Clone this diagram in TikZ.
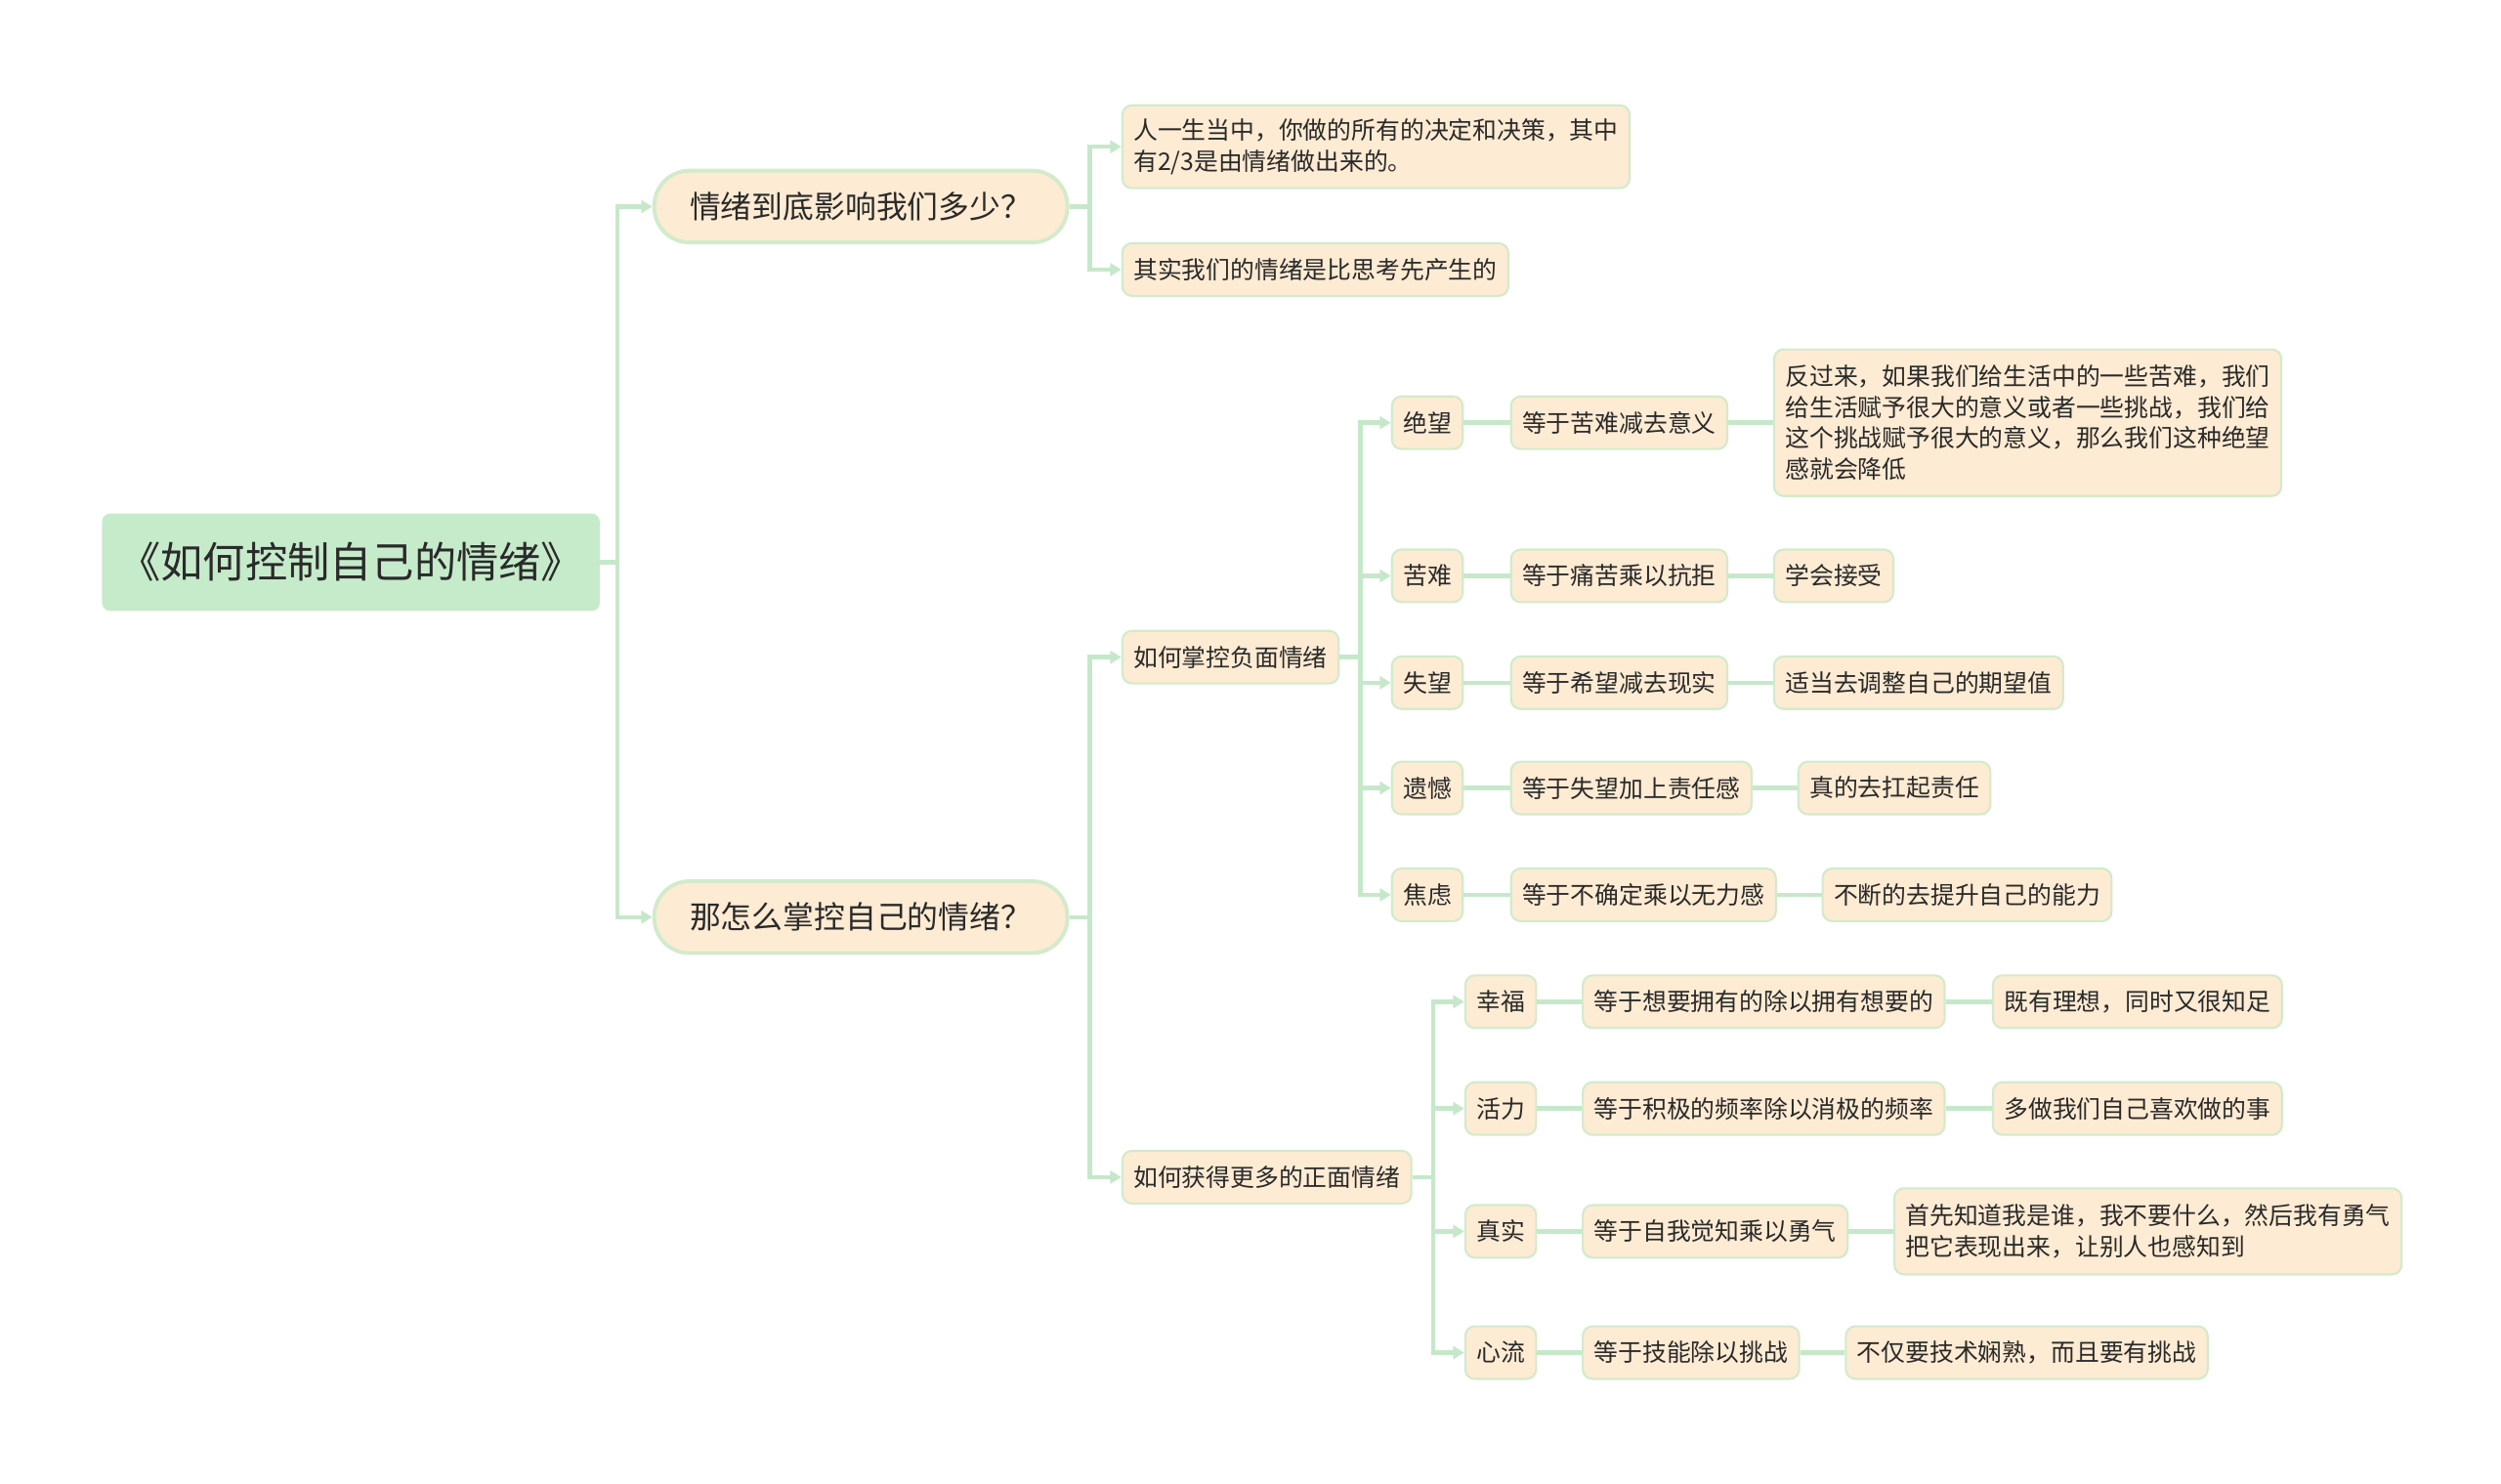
\documentclass[tikz,border=0pt]{standalone}
\usepackage{fontspec}
\setmainfont{Noto Sans CJK SC}
\usetikzlibrary{arrows.meta,positioning}
\definecolor{rootGreen}{HTML}{C6EBCB}
\definecolor{linkGreen}{HTML}{C6E8CA}
\definecolor{boxCream}{HTML}{FDEBD3}
\definecolor{boxEdge}{HTML}{D2EBCB}
\definecolor{inkGray}{HTML}{2A2A2A}
\tikzset{
  link/.style={draw=linkGreen, line width=2.8pt},
  arrowlink/.style={link, -{Triangle[length=7pt,width=8pt]}},
  rootbox/.style={rectangle, rounded corners=5pt, draw=none, fill=rootGreen, text=inkGray, minimum width=312pt, minimum height=61pt, font=\fontsize{26.5pt}{30pt}\selectfont},
  topic/.style={rectangle, rounded corners=22pt, draw=boxEdge, line width=2.4pt, fill=boxCream, text=inkGray, minimum width=259pt, minimum height=45pt, font=\fontsize{19.5pt}{24pt}\selectfont},
  leaf/.style={rectangle, rounded corners=6pt, draw=boxEdge, line width=1.3pt, fill=boxCream, text=inkGray, minimum height=33pt, inner xsep=7pt, inner ysep=6pt, align=left, font=\fontsize{15.2pt}{19.4pt}\selectfont}
}

\begin{document}
\begin{tikzpicture}[x=1pt,y=-1pt]
\useasboundingbox (0,0) rectangle (1568,930);

% --------------------------------------------------------------------------
% Root and first level
% --------------------------------------------------------------------------
\node[rootbox] (root) at (220,352.5) {《如何控制自己的情绪》};
\node[topic, anchor=west] (qHow) at (409,129.5) {情绪到底影响我们多少？};
\node[topic, anchor=west] (qCtrl) at (409,575) {那怎么掌控自己的情绪？};

\draw[arrowlink] (root.east) -- ++(11,0) |- (qHow.west);
\draw[arrowlink] (root.east) -- ++(11,0) |- (qCtrl.west);

% --------------------------------------------------------------------------
% How much do emotions matter
% --------------------------------------------------------------------------
\node[leaf, anchor=west, minimum height=52pt] (aShare) at (703,92) {人一生当中，你做的所有的决定和决策，其中\\有2/3是由情绪做出来的。};
\node[leaf, anchor=west] (aFirst) at (703,169) {其实我们的情绪是比思考先产生的};

\draw[arrowlink] (qHow.east) -- ++(13,0) |- (aShare.west);
\draw[arrowlink] (qHow.east) -- ++(13,0) |- (aFirst.west);

% --------------------------------------------------------------------------
% Negative emotions
% --------------------------------------------------------------------------
\node[leaf, anchor=west] (neg) at (703,412) {如何掌控负面情绪};
\draw[arrowlink] (qCtrl.east) -- ++(13,0) |- (neg.west);

\node[leaf, anchor=west] (despair) at (872,265) {绝望};
\node[leaf, right=29pt of despair] (despairEq) {等于苦难减去意义};
\node[leaf, right=28pt of despairEq, minimum height=92pt] (despairDo) {反过来，如果我们给生活中的一些苦难，我们\\给生活赋予很大的意义或者一些挑战，我们给\\这个挑战赋予很大的意义，那么我们这种绝望\\感就会降低};

\node[leaf, anchor=west] (suffer) at (872,361) {苦难};
\node[leaf, right=29pt of suffer] (sufferEq) {等于痛苦乘以抗拒};
\node[leaf, right=28pt of sufferEq] (sufferDo) {学会接受};

\node[leaf, anchor=west] (letdown) at (872,428) {失望};
\node[leaf, right=29pt of letdown] (letdownEq) {等于希望减去现实};
\node[leaf, right=28pt of letdownEq] (letdownDo) {适当去调整自己的期望值};

\node[leaf, anchor=west] (regret) at (872,494) {遗憾};
\node[leaf, right=29pt of regret] (regretEq) {等于失望加上责任感};
\node[leaf, right=28pt of regretEq] (regretDo) {真的去扛起责任};

\node[leaf, anchor=west] (anxiety) at (872,561) {焦虑};
\node[leaf, right=29pt of anxiety] (anxietyEq) {等于不确定乘以无力感};
\node[leaf, right=28pt of anxietyEq] (anxietyDo) {不断的去提升自己的能力};

\draw[arrowlink] (neg.east) -- ++(13,0) |- (despair.west);
\draw[arrowlink] (neg.east) -- ++(13,0) |- (suffer.west);
\draw[arrowlink] (neg.east) -- ++(13,0) |- (letdown.west);
\draw[arrowlink] (neg.east) -- ++(13,0) |- (regret.west);
\draw[arrowlink] (neg.east) -- ++(13,0) |- (anxiety.west);

\draw[link] (despair.east) -- (despairEq.west);
\draw[link] (despairEq.east) -- (despairDo.west);
\draw[link] (suffer.east) -- (sufferEq.west);
\draw[link] (sufferEq.east) -- (sufferDo.west);
\draw[link] (letdown.east) -- (letdownEq.west);
\draw[link] (letdownEq.east) -- (letdownDo.west);
\draw[link] (regret.east) -- (regretEq.west);
\draw[link] (regretEq.east) -- (regretDo.west);
\draw[link] (anxiety.east) -- (anxietyEq.west);
\draw[link] (anxietyEq.east) -- (anxietyDo.west);

% --------------------------------------------------------------------------
% Positive emotions
% --------------------------------------------------------------------------
\node[leaf, anchor=west] (pos) at (703,738) {如何获得更多的正面情绪};
\draw[arrowlink] (qCtrl.east) -- ++(13,0) |- (pos.west);

\node[leaf, anchor=west] (happy) at (918,628) {幸福};
\node[leaf, right=28pt of happy] (happyEq) {等于想要拥有的除以拥有想要的};
\node[leaf, right=29pt of happyEq] (happyDo) {既有理想，同时又很知足};

\node[leaf, anchor=west] (vigour) at (918,695) {活力};
\node[leaf, right=28pt of vigour] (vigourEq) {等于积极的频率除以消极的频率};
\node[leaf, right=29pt of vigourEq] (vigourDo) {多做我们自己喜欢做的事};

\node[leaf, anchor=west] (genuine) at (918,772) {真实};
\node[leaf, right=28pt of genuine] (genuineEq) {等于自我觉知乘以勇气};
\node[leaf, right=28pt of genuineEq, minimum height=54pt] (genuineDo) {首先知道我是谁，我不要什么，然后我有勇气\\把它表现出来，让别人也感知到};

\node[leaf, anchor=west] (flow) at (918,848) {心流};
\node[leaf, right=28pt of flow] (flowEq) {等于技能除以挑战};
\node[leaf, right=28pt of flowEq] (flowDo) {不仅要技术娴熟，而且要有挑战};

\draw[arrowlink] (pos.east) -- ++(13,0) |- (happy.west);
\draw[arrowlink] (pos.east) -- ++(13,0) |- (vigour.west);
\draw[arrowlink] (pos.east) -- ++(13,0) |- (genuine.west);
\draw[arrowlink] (pos.east) -- ++(13,0) |- (flow.west);

\draw[link] (happy.east) -- (happyEq.west);
\draw[link] (happyEq.east) -- (happyDo.west);
\draw[link] (vigour.east) -- (vigourEq.west);
\draw[link] (vigourEq.east) -- (vigourDo.west);
\draw[link] (genuine.east) -- (genuineEq.west);
\draw[link] (genuineEq.east) -- (genuineDo.west);
\draw[link] (flow.east) -- (flowEq.west);
\draw[link] (flowEq.east) -- (flowDo.west);

\end{tikzpicture}
\end{document}
